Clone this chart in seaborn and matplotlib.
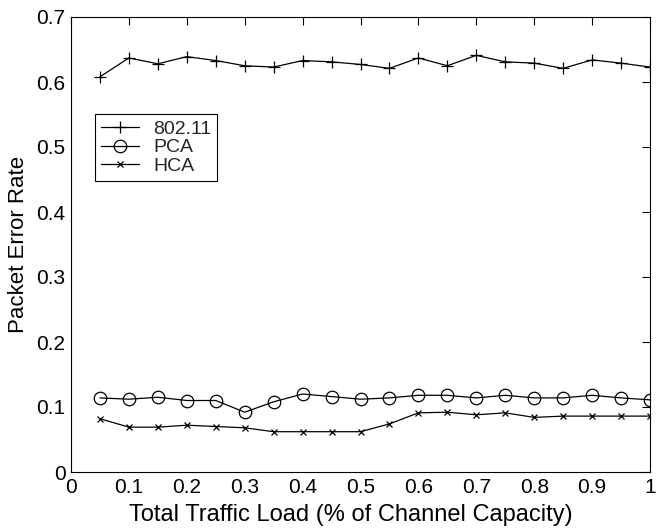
import numpy as np
import pandas as pd
import matplotlib
matplotlib.use("Agg")
import matplotlib.pyplot as plt
import seaborn as sns

load = [0.05, 0.1, 0.15, 0.2, 0.25, 0.3, 0.35, 0.4, 0.45, 0.5,
        0.55, 0.6, 0.65, 0.7, 0.75, 0.8, 0.85, 0.9, 0.95, 1.0]
per_80211 = [0.608, 0.637, 0.628, 0.639, 0.633, 0.625, 0.623, 0.633, 0.631, 0.627,
             0.621, 0.637, 0.625, 0.641, 0.631, 0.629, 0.621, 0.634, 0.629, 0.623]
per_pca = [0.114, 0.112, 0.115, 0.110, 0.110, 0.092, 0.108, 0.120, 0.116, 0.112,
           0.114, 0.118, 0.118, 0.114, 0.118, 0.114, 0.114, 0.118, 0.114, 0.111]
per_hca = [0.082, 0.069, 0.069, 0.072, 0.070, 0.068, 0.062, 0.062, 0.062, 0.062,
           0.074, 0.091, 0.092, 0.088, 0.091, 0.084, 0.086, 0.086, 0.086, 0.086]
series_names = ["802.11", "PCA", "HCA"]
xticks = [0, 0.1, 0.2, 0.3, 0.4, 0.5, 0.6, 0.7, 0.8, 0.9, 1]
xticklabels = ["0", "0.1", "0.2", "0.3", "0.4", "0.5", "0.6", "0.7", "0.8", "0.9", "1"]
yticks = [0, 0.1, 0.2, 0.3, 0.4, 0.5, 0.6, 0.7]
yticklabels = ["0", "0.1", "0.2", "0.3", "0.4", "0.5", "0.6", "0.7"]

sns.set_theme(style="white")
plt.rcParams['font.family'] = ['Liberation Sans', 'DejaVu Sans']

fig = plt.figure(figsize=(6.64, 5.32), dpi=100)
ax = fig.add_axes([71/664, 60/532, 579/664, 455/532])

df = pd.DataFrame({"load": load, "802.11": per_80211, "PCA": per_pca, "HCA": per_hca})

styles = {
    "802.11": dict(marker="+", markersize=9, markeredgewidth=0.9, markerfacecolor="none"),
    "PCA": dict(marker="o", markersize=9, markeredgewidth=0.9, markerfacecolor="none"),
    "HCA": dict(marker="x", markersize=4, markeredgewidth=0.9, markerfacecolor="none"),
}
for name in series_names:
    sns.lineplot(data=df, x="load", y=name, ax=ax, color="black", linewidth=0.9,
                 markeredgecolor="black", label=name, **styles[name])

ax.set_xlim(0, 1)
ax.set_ylim(0, 0.7)
ax.set_xticks(xticks)
ax.set_xticklabels(xticklabels)
ax.set_yticks(yticks)
ax.set_yticklabels(yticklabels)
ax.tick_params(direction="in", length=6, width=0.8, top=True, right=True,
               labelsize=15, colors="black", pad=4)
for s in ax.spines.values():
    s.set_color("black")
    s.set_linewidth(0.8)
ax.set_xlabel("Total Traffic Load (% of Channel Capacity)", fontsize=17, color="black")
ax.set_ylabel("Packet Error Rate", fontsize=16, color="black")
ax.yaxis.set_label_coords(-42/579, 0.5)
ax.xaxis.set_label_coords(0.484, -32/455)

leg = ax.legend(loc="upper left", bbox_to_anchor=(0.041, 0.786), fontsize=14,
                frameon=True, fancybox=False, edgecolor="black", framealpha=1,
                handlelength=2.0, handletextpad=0.7, borderpad=0.3,
                labelspacing=0.05, borderaxespad=0)
leg.get_frame().set_linewidth(0.8)
ax.grid(False)

fig.savefig("out.png", dpi=100)
